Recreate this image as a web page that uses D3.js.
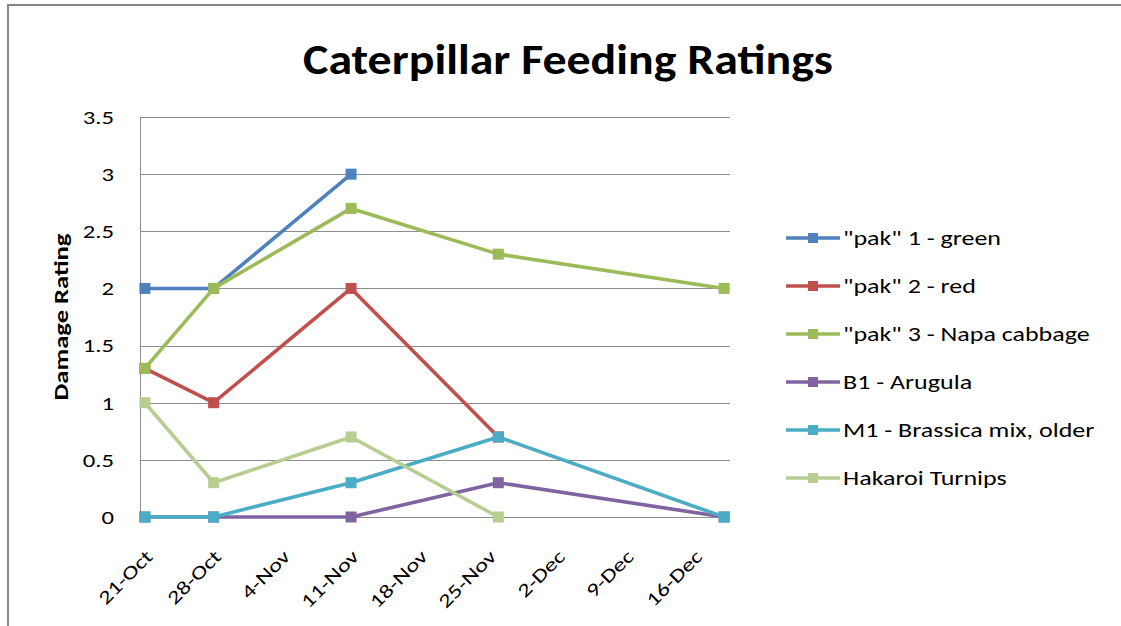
<!DOCTYPE html>
<html>
<head>
<meta charset="utf-8">
<script src="https://cdn.jsdelivr.net/npm/d3@7"></script>
<style>
  html, body { margin: 0; padding: 0; background: #fff; }
  svg text { font-family: Carlito, Calibri, Lato, sans-serif; fill: #000; }
</style>
</head>
<body>
<div id="chart"></div>
<script>
// Observation dates (UTC) and rating values, null = not rated
const dates = ['2012-10-21', '2012-10-28', '2012-11-11', '2012-11-26', '2012-12-19'];
const seriesNames = [
  '"pak" 1 - green',
  '"pak" 2 - red',
  '"pak" 3 - Napa cabbage',
  'B1 - Arugula',
  'M1 - Brassica mix, older',
  'Hakaroi Turnips'
];
const pak1 = [2, 2, 3, null, null];
const pak2 = [1.3, 1, 2, 0.7, null];
const pak3 = [1.3, 2, 2.7, 2.3, 2];
const arugula = [0, 0, 0, 0.3, 0];
const brassica = [0, 0, 0.3, 0.7, 0];
const turnips = [1, 0.3, 0.7, 0, null];
const seriesColors = ['#4F81BD', '#C0504D', '#9BBB59', '#8064A2', '#4BACC6', '#B7CE93'];

const tickDates = ['2012-10-21', '2012-10-28', '2012-11-04', '2012-11-11', '2012-11-18',
  '2012-11-25', '2012-12-02', '2012-12-09', '2012-12-16'];
const yTicks = [0, 0.5, 1, 1.5, 2, 2.5, 3, 3.5];

const drawChart = () => {
  let width = 1121;
  let height = 626;
  let plot = { left: 140, right: 729, top: 117, bottom: 517 };
  // the source text is rendered wide, so stretch glyphs along the baseline
  let stretch = 1.3;

  let svg = d3
    .select('#chart')
    .append('svg')
    .attr('width', width)
    .attr('height', height);

  // outer chart frame, runs off the right and bottom edges
  svg
    .append('rect')
    .attr('x', 8)
    .attr('y', 5)
    .attr('width', width + 20)
    .attr('height', height + 20)
    .attr('fill', 'white')
    .attr('stroke', '#868686')
    .attr('stroke-width', 2);

  let parse = d3.utcParse('%Y-%m-%d');
  let fmt = d3.utcFormat('%-d-%b');
  let halfDay = 12 * 3600 * 1000;

  // date axis: each day is a slot, points sit in the middle of their slot
  let x = d3
    .scaleUtc()
    .domain([+parse(dates[0]) - halfDay, +parse(dates[dates.length - 1]) + halfDay])
    .range([plot.left, plot.right]);

  let y = d3.scaleLinear().domain([0, 3.5]).range([plot.bottom, plot.top]);

  // gridlines
  svg
    .selectAll('.grid')
    .data(yTicks)
    .enter()
    .append('line')
    .attr('class', 'grid')
    .attr('x1', plot.left)
    .attr('x2', plot.right + 1)
    .attr('y1', (d) => Math.round(y(d)) + 0.5)
    .attr('y2', (d) => Math.round(y(d)) + 0.5)
    .attr('stroke', '#8c8c8c')
    .attr('stroke-width', 1);

  // y axis line
  svg
    .append('line')
    .attr('x1', plot.left + 0.5)
    .attr('x2', plot.left + 0.5)
    .attr('y1', plot.top)
    .attr('y2', plot.bottom + 1)
    .attr('stroke', '#8c8c8c');

  // y tick labels
  svg
    .selectAll('.ytick')
    .data(yTicks)
    .enter()
    .append('text')
    .attr('class', 'ytick')
    .attr('transform', (d) => `translate(114,${y(d)}) scale(${stretch},1)`)
    .attr('dy', '0.36em')
    .attr('text-anchor', 'end')
    .attr('font-size', 19)
    .text((d) => d);

  // x tick labels, rotated
  svg
    .selectAll('.xtick')
    .data(tickDates.map(parse))
    .enter()
    .append('text')
    .attr('class', 'xtick')
    .attr('transform', (d) => `translate(${x(d) + 4},${553}) rotate(-45) scale(${stretch},1)`)
    .attr('dy', '0.36em')
    .attr('text-anchor', 'end')
    .attr('font-size', 19)
    .text((d) => fmt(d));

  // y axis title
  svg
    .append('text')
    .attr('transform', `translate(68,317) rotate(-90) scale(${stretch},1)`)
    .attr('text-anchor', 'middle')
    .attr('font-size', 20.5)
    .attr('font-weight', 'bold')
    .text('Damage Rating');

  // chart title, fitted to the width it has in the source
  let title = svg
    .append('text')
    .attr('text-anchor', 'middle')
    .attr('font-size', 43)
    .attr('font-weight', 'bold')
    .text('Caterpillar Feeding Ratings');
  let titleScale = 530 / title.node().getComputedTextLength();
  title.attr('transform', `translate(568,74) scale(${titleScale},1)`);

  let allSeries = [pak1, pak2, pak3, arugula, brassica, turnips].map((vals, i) => ({
    name: seriesNames[i],
    color: seriesColors[i],
    points: vals
      .map((v, j) => ({ date: parse(dates[j]), value: v }))
      .filter((p) => p.value !== null)
  }));

  let line = d3
    .line()
    .x((d) => x(d.date))
    .y((d) => y(d.value));

  let markerSize = 11;

  // lines and square markers, one group per series so later ones sit on top
  allSeries.forEach((s) => {
    let g = svg.append('g').attr('class', 'series');
    g.append('path')
      .attr('d', line(s.points))
      .attr('fill', 'none')
      .attr('stroke', s.color)
      .attr('stroke-width', 3.6)
      .attr('stroke-linejoin', 'round');
    g.selectAll('rect')
      .data(s.points)
      .enter()
      .append('rect')
      .attr('x', (d) => x(d.date) - markerSize / 2)
      .attr('y', (d) => y(d.value) - markerSize / 2)
      .attr('width', markerSize)
      .attr('height', markerSize)
      .attr('fill', s.color);
  });

  // legend
  let legend = svg
    .append('g')
    .attr('class', 'legend')
    .attr('transform', 'translate(786, 238)');

  legend
    .selectAll('.legend-item')
    .data(allSeries)
    .enter()
    .append('g')
    .attr('class', 'legend-item')
    .attr('transform', (d, i) => `translate(0, ${i * 48})`)
    .each(function (d) {
      let item = d3.select(this);
      item
        .append('line')
        .attr('x1', 0)
        .attr('x2', 54)
        .attr('stroke', d.color)
        .attr('stroke-width', 3.6);
      item
        .append('rect')
        .attr('x', 27 - 5)
        .attr('y', -5)
        .attr('width', 10)
        .attr('height', 10)
        .attr('fill', d.color);
      item
        .append('text')
        .attr('transform', `translate(57,0) scale(${stretch},1)`)
        .attr('dy', '0.36em')
        .attr('font-size', 20)
        .text(d.name);
    });
};

drawChart();
</script>
</body>
</html>
